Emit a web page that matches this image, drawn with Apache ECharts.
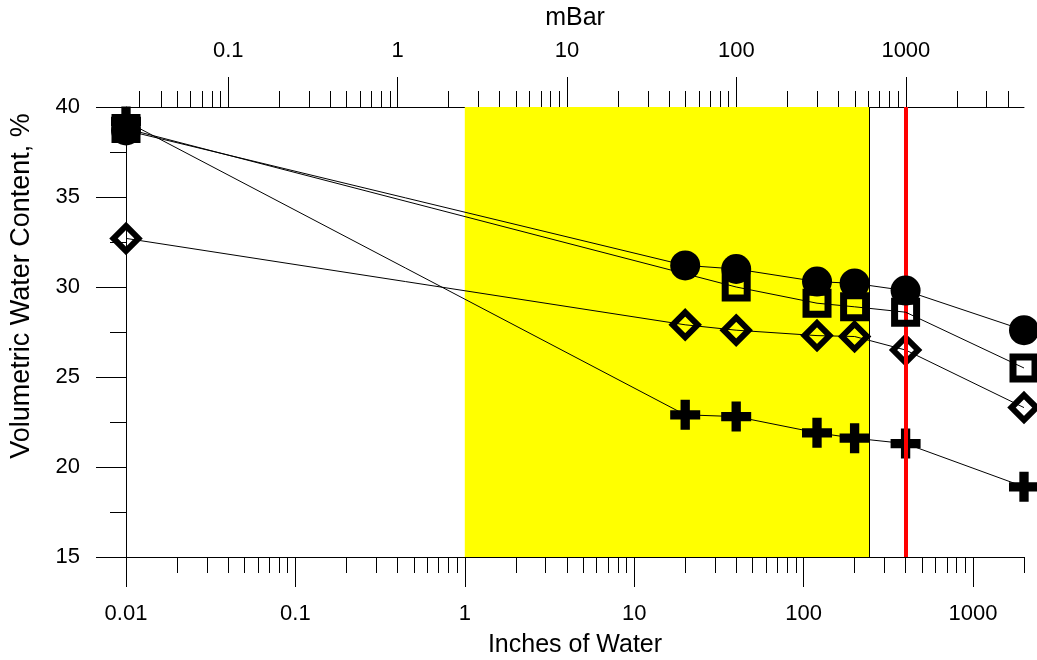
<!DOCTYPE html>
<html>
<head>
<meta charset="utf-8">
<script src="https://cdn.jsdelivr.net/npm/echarts@6/dist/echarts.min.js"></script>
<style>
  html, body { margin: 0; padding: 0; background: #ffffff; }
  #chart { width: 1037px; height: 660px; }
</style>
</head>
<body>
<div id="chart"></div>
<script>
// Suction in inches of water; 1 inch of water = 2.4909 mBar
const INCH_TO_MBAR = 2.4909;
const xMinInches = 0.01;
const xMaxInches = 2000;

// Measured water content, %
const suctionInches = [0.01, 20, 40, 120, 200, 400, 2000];
const circleValues  = [38.7, 31.2, 31.0, 30.3, 30.2, 29.8, 27.6];
const squareSuction = [0.01, 40, 120, 200, 400, 2000];
const squareValues  = [38.8, 30.0, 29.1, 28.9, 28.6, 25.5];
const diamondValues = [32.7, 27.9, 27.6, 27.3, 27.25, 26.5, 23.3];
const plusValues    = [39.2, 22.9, 22.8, 21.9, 21.6, 21.3, 18.9];

// Shaded band and reference line (inches of water)
const bandStart = 1;
const bandEnd = 245;
const refLine = 400;

// Tick values
const inchMajorTicks = [0.01, 0.1, 1, 10, 100, 1000];
const mbarMajorTicks = [0.1, 1, 10, 100, 1000];
const yTicks = [15, 20, 25, 30, 35, 40];

function minorTicks(lo, hi) {
  const out = [];
  for (let d = -3; d <= 4; d++) {
    for (let m = 2; m <= 9; m++) {
      const v = Number((m * Math.pow(10, d)).toPrecision(6));
      if (v >= lo && v <= hi) out.push(v);
    }
  }
  return out;
}

const mbarMin = xMinInches * INCH_TO_MBAR;
const mbarMax = xMaxInches * INCH_TO_MBAR;

const FONT = 'Liberation Sans, Arial, sans-serif';
const tickLabel = v => String(Number(Number(v).toPrecision(6)));

const pair = (xs, ys) => xs.map((x, i) => [x, ys[i]]);

const plusPath = 'path://M10,0 H19 V10 H29 V19 H19 V29 H10 V19 H0 V10 H10 Z';

const baseAxis = {
  type: 'log',
  logBase: 10,
  splitLine: { show: false },
  minorTick: { show: false },
  minorSplitLine: { show: false }
};

const chart = echarts.init(document.getElementById('chart'), null, { renderer: 'canvas' });

const lineStyle = { color: '#000', width: 1 };

chart.setOption({
  animation: false,
  backgroundColor: '#ffffff',
  grid: { left: 126, right: 13, top: 107, bottom: 103, containLabel: false, outerBoundsMode: 'none' },
  xAxis: [
    Object.assign({}, baseAxis, {
      position: 'bottom',
      min: xMinInches, max: xMaxInches,
      name: 'Inches of Water',
      nameLocation: 'middle',
      nameGap: 76,
      nameTextStyle: { fontFamily: FONT, fontSize: 25, color: '#000' },
      axisLine: { show: true, onZero: false, lineStyle: { color: '#000', width: 1 } },
      axisTick: { show: true, inside: false, length: 30, customValues: inchMajorTicks, lineStyle: { color: '#000', width: 1 } },
      axisLabel: { show: true, margin: 46, customValues: inchMajorTicks, formatter: tickLabel, fontFamily: FONT, fontSize: 22, color: '#000' }
    }),
    Object.assign({}, baseAxis, {
      position: 'bottom',
      min: xMinInches, max: xMaxInches,
      axisLine: { show: false },
      axisTick: { show: true, inside: false, length: 16, customValues: minorTicks(xMinInches, xMaxInches), lineStyle: { color: '#000', width: 1 } },
      axisLabel: { show: false }
    }),
    Object.assign({}, baseAxis, {
      position: 'top',
      min: mbarMin, max: mbarMax,
      name: 'mBar',
      nameLocation: 'middle',
      nameGap: 76,
      nameTextStyle: { fontFamily: FONT, fontSize: 25, color: '#000' },
      axisLine: { show: true, onZero: false, lineStyle: { color: '#000', width: 1 } },
      axisTick: { show: true, inside: false, length: 30, customValues: mbarMajorTicks, lineStyle: { color: '#000', width: 1 } },
      axisLabel: { show: true, margin: 45, customValues: mbarMajorTicks, formatter: tickLabel, fontFamily: FONT, fontSize: 22, color: '#000' }
    }),
    Object.assign({}, baseAxis, {
      position: 'top',
      min: mbarMin, max: mbarMax,
      axisLine: { show: false },
      axisTick: { show: true, inside: false, length: 16, customValues: minorTicks(mbarMin, mbarMax), lineStyle: { color: '#000', width: 1 } },
      axisLabel: { show: false }
    })
  ],
  yAxis: [{
    type: 'value',
    min: yTicks[0], max: yTicks[yTicks.length - 1], interval: 5,
    position: 'left',
    splitLine: { show: false },
    axisLine: { show: true, onZero: false, lineStyle: { color: '#000', width: 1 } },
    axisTick: { show: true, inside: false, length: 30, lineStyle: { color: '#000', width: 1 } },
    minorTick: { show: true, splitNumber: 2, length: 16, lineStyle: { color: '#000', width: 1 } },
    axisLabel: { show: true, margin: 46, fontFamily: FONT, fontSize: 22, color: '#000' }
  }],
  graphic: [{
    type: 'text',
    x: 22, y: 286,
    rotation: Math.PI / 2,
    style: {
      text: 'Volumetric Water Content, %',
      font: '27px ' + FONT,
      fill: '#000',
      align: 'center',
      verticalAlign: 'middle'
    },
    z: 10
  }],
  series: [
    {
      // shaded band with its right edge, plus the reference line
      type: 'line',
      xAxisIndex: 0, yAxisIndex: 0,
      data: [],
      z: 1,
      silent: true,
      markArea: {
        silent: true,
        itemStyle: { color: '#ffff00', opacity: 1 },
        data: [[{ xAxis: bandStart }, { xAxis: bandEnd }]]
      },
      markLine: {
        silent: true,
        symbol: ['none', 'none'],
        label: { show: false },
        emphasis: { disabled: true },
        data: [
          { xAxis: bandEnd, lineStyle: { color: '#000', width: 1, type: 'solid' } },
          { xAxis: refLine, lineStyle: { color: '#ff0000', width: 4, type: 'solid' } }
        ]
      }
    },
    {
      name: 'plus',
      type: 'line', xAxisIndex: 0, yAxisIndex: 0, z: 3, clip: false,
      data: pair(suctionInches, plusValues),
      symbol: plusPath, symbolSize: 30,
      itemStyle: { color: '#000', borderWidth: 0 },
      lineStyle: lineStyle
    },
    {
      name: 'diamond',
      type: 'line', xAxisIndex: 0, yAxisIndex: 0, z: 4, clip: false,
      data: pair(suctionInches, diamondValues),
      symbol: 'diamond', symbolSize: 25,
      itemStyle: { color: 'rgba(0,0,0,0)', borderColor: '#000', borderWidth: 6 },
      lineStyle: lineStyle
    },
    {
      name: 'square',
      type: 'line', xAxisIndex: 0, yAxisIndex: 0, z: 5, clip: false,
      data: pair(squareSuction, squareValues),
      symbol: 'rect', symbolSize: 22,
      itemStyle: { color: 'rgba(0,0,0,0)', borderColor: '#000', borderWidth: 7 },
      lineStyle: lineStyle
    },
    {
      name: 'circle',
      type: 'line', xAxisIndex: 0, yAxisIndex: 0, z: 6, clip: false,
      data: pair(suctionInches, circleValues),
      symbol: 'circle', symbolSize: 30,
      itemStyle: { color: '#000', borderWidth: 0 },
      lineStyle: lineStyle
    }
  ]
});
</script>
</body>
</html>
